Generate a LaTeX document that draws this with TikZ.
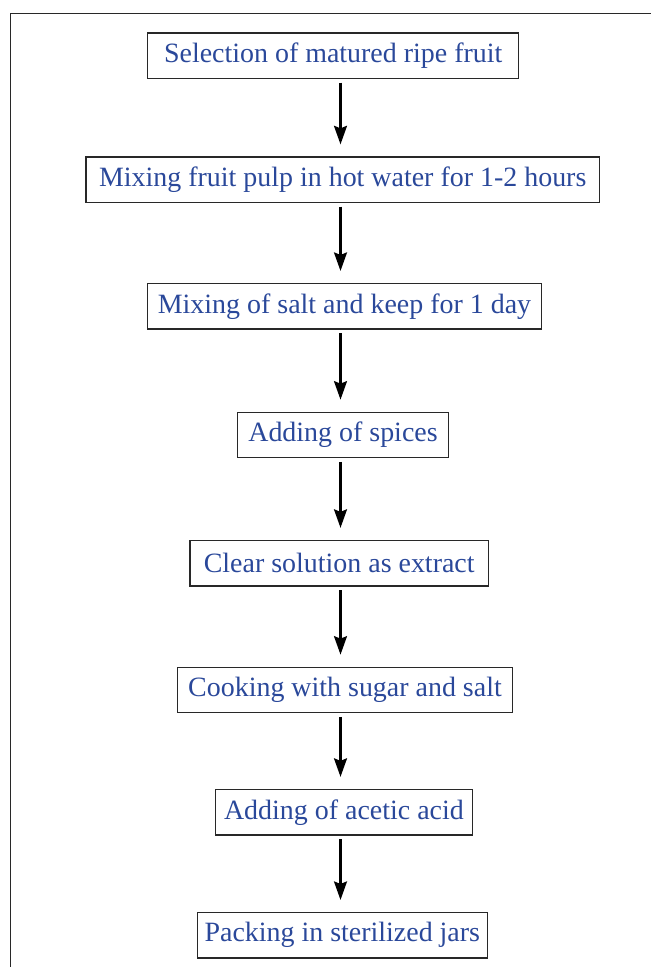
\documentclass[tikz,border=0pt]{standalone}
\usepackage{fontspec}
\setmainfont{Liberation Serif}
\usepackage{tikz}
\usetikzlibrary{positioning}
\usetikzlibrary{arrows.meta}
\definecolor{stepblue}{RGB}{42,72,154}
\definecolor{framegray}{RGB}{40,40,40}

\begin{document}
\begin{tikzpicture}[
				 stepnode/.style={rectangle, draw=framegray, line width=0.7pt, minimum height=0.91cm, inner sep=0pt, text=stepblue, font=\fontsize{15.9}{19}\selectfont},
				 flowarrow/.style={line width=1.15pt, -{Stealth[length=3.7mm, width=2.6mm, inset=0.5mm]}, shorten <=0.07cm, shorten >=0.24cm},
				 ]
				 \useasboundingbox (0, 0) rectangle (13.02, 19.34);
				 % Nodes
				 \node[stepnode, minimum width=7.42cm]          (selection_step1)       at (6.664, 18.226)   {Selection of matured ripe fruit};
				 \node[stepnode, minimum width=10.27cm]         (pulp_step2)            at (6.854, 15.746)   {Mixing fruit pulp in hot water for 1-2 hours};
				 \node[stepnode, minimum width=7.89cm]          (salt_step3)            at (6.89, 13.214)    {Mixing of salt and keep for 1 day};
				 \node[stepnode, minimum width=4.21cm]          (spices_step4)          at (6.86, 10.64)     {Adding of spices};
				 \node[stepnode, minimum width=5.97cm]          (extract_step5)         at (6.784, 8.076)    {Clear solution as extract};
				 \node[stepnode, minimum width=6.69cm]          (cooking_step6)         at (6.9, 5.54)       {Cooking with sugar and salt};
				 \node[stepnode, minimum width=5.15cm]          (acid_step7)            at (6.878, 3.096)    {Adding of acetic acid};
				 \node[stepnode, minimum width=5.8cm]           (packing_step8)         at (6.846, 0.634)    {Packing in sterilized jars};
				 \coordinate                                    (arrow_axis)            at (6.81, 0);

				 % Lines
				 \draw[flowarrow] (selection_step1.south -| arrow_axis)   --   (pulp_step2.north -| arrow_axis);
				 \draw[flowarrow] (pulp_step2.south -| arrow_axis)        --   (salt_step3.north -| arrow_axis);
				 \draw[flowarrow] (salt_step3.south -| arrow_axis)        --   (spices_step4.north -| arrow_axis);
				 \draw[flowarrow] (spices_step4.south -| arrow_axis)      --   (extract_step5.north -| arrow_axis);
				 \draw[flowarrow] (extract_step5.south -| arrow_axis)     --   (cooking_step6.north -| arrow_axis);
				 \draw[flowarrow] (cooking_step6.south -| arrow_axis)     --   (acid_step7.north -| arrow_axis);
				 \draw[flowarrow] (acid_step7.south -| arrow_axis)        --   (packing_step8.north -| arrow_axis);
				 \draw[draw=framegray, line width=0.6pt]  (0.206, 0) -- (0.206, 19.066) -- (13.02, 19.066);
			\end{tikzpicture}
\end{document}
